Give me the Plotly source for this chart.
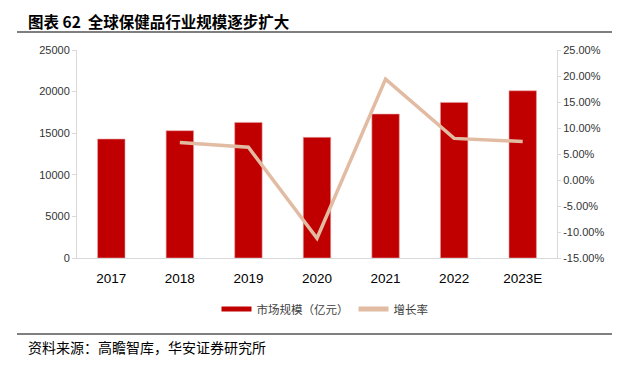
import plotly.graph_objects as go

years = ["2017", "2018", "2019", "2020", "2021", "2022", "2023E"]
market_size = [14300, 15300, 16300, 14500, 17300, 18700, 20100]
growth_years = ["2018", "2019", "2020", "2021", "2022", "2023E"]
growth_rate = [0.072, 0.063, -0.112, 0.194, 0.080, 0.074]

left_ticks = [0, 5000, 10000, 15000, 20000, 25000]
right_ticks = [-0.15, -0.10, -0.05, 0.0, 0.05, 0.10, 0.15, 0.20, 0.25]

BAR_C = "#C00000"
LINE_C = "#E2BBA3"
CJK = "Noto Sans CJK SC"
W, H = 631, 365
OFF = 8  # page body margin
# plot area in page pixels
PX0, PX1, PY0, PY1 = 77, 557, 50, 258
L, T = PX0 - OFF, PY0 - OFF
R, B = W - (PX1 - OFF), H - (PY1 - OFF)
PW, PH = PX1 - PX0, PY1 - PY0


def px(x):
    return (x - PX0) / PW


def py(y):
    return (PY1 - y) / PH


fig = go.Figure()
fig.add_trace(go.Bar(x=years, y=market_size, marker=dict(color=BAR_C, line=dict(color="#E8A0A0", width=0.6)),
                     showlegend=False, yaxis="y"))
fig.add_trace(go.Scatter(x=growth_years, y=growth_rate, mode="lines", line=dict(color=LINE_C, width=3.5),
                         showlegend=False, yaxis="y2"))
# legend entries
fig.add_trace(go.Scatter(x=[None], y=[None], mode="lines", line=dict(color=BAR_C, width=5),
                         name="市场规模（亿元）", yaxis="y"))
fig.add_trace(go.Scatter(x=[None], y=[None], mode="lines", line=dict(color=LINE_C, width=5),
                         name="增长率", yaxis="y2"))

axis_line = "#D9D9D9"
fig.update_layout(
    width=W, height=H,
    margin=dict(l=L, r=R, t=T, b=B, autoexpand=False),
    paper_bgcolor="white", plot_bgcolor="white",
    bargap=0.6,
    xaxis=dict(type="category", categoryorder="array", categoryarray=years, automargin=False,
               showline=True, linecolor=axis_line, linewidth=1, ticks="outside", ticklen=8,
               tickcolor="rgba(0,0,0,0)",
               tickfont=dict(family="Liberation Sans, Arial", size=13.5, color="#000000"),
               showgrid=False),
    yaxis=dict(range=[0, 25000], tickvals=left_ticks, ticktext=[str(v) for v in left_ticks], automargin=False,
               showline=True, linecolor=axis_line, linewidth=1, ticks="outside", ticklen=4,
               tickcolor=axis_line, showgrid=False, zeroline=False,
               tickfont=dict(family="Liberation Sans, Arial", size=11, color="#333333")),
    yaxis2=dict(range=[-0.15, 0.25], tickvals=right_ticks, automargin=False,
                ticktext=[f"{v*100:.2f}%" for v in right_ticks],
                overlaying="y", side="right", showline=True, linecolor=axis_line, linewidth=1,
                ticks="outside", ticklen=3, tickcolor=axis_line, showgrid=False, zeroline=False,
                tickfont=dict(family="Liberation Sans, Arial", size=11, color="#333333")),
    legend=dict(orientation="h", x=(325 - OFF) / W, xanchor="center", y=(H - (309 - OFF)) / H,
                yanchor="middle", yref="container", xref="container",
                font=dict(family=CJK, size=11.5, color="#404040"), itemwidth=30,
                bgcolor="rgba(0,0,0,0)"),
    shapes=[
        dict(type="line", xref="paper", yref="paper", x0=px(17), x1=px(612),
             y0=py(32), y1=py(32), line=dict(color="#000000", width=1.2)),
        dict(type="line", xref="paper", yref="paper", x0=px(17), x1=px(612),
             y0=py(334), y1=py(334), line=dict(color="#000000", width=1)),
    ],
    annotations=[
        dict(text="<b>图表 62  全球保健品行业规模逐步扩大</b>", xref="paper", yref="paper",
             x=px(26), y=py(8.5), xanchor="left", yanchor="top", showarrow=False,
             font=dict(family=CJK, size=15.5, color="#000000")),
        dict(text="资料来源：高瞻智库，华安证券研究所", xref="paper", yref="paper",
             x=px(26), y=py(347), xanchor="left", yanchor="middle", showarrow=False,
             font=dict(family=CJK, size=14, color="#000000")),
    ],
)

fig.write_html("out.html")
